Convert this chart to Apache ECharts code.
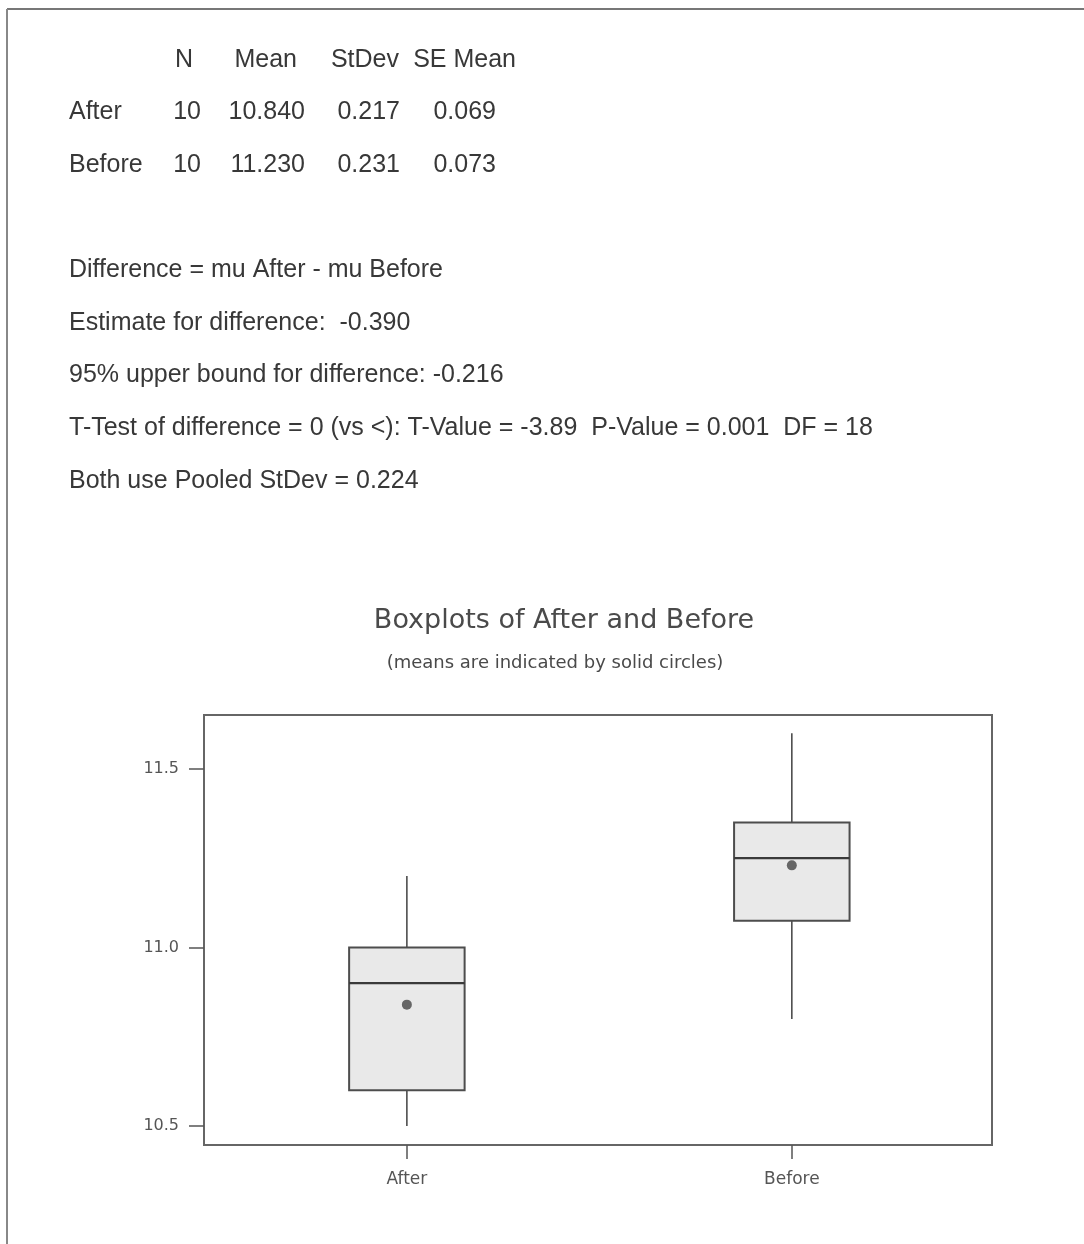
<!DOCTYPE html>
<html>
<head>
<meta charset="utf-8">
<title>Two-sample T-test: After vs Before</title>
<script src="https://cdn.jsdelivr.net/npm/echarts@6/dist/echarts.min.js"></script>
<style>
  html, body { margin: 0; padding: 0; background: #ffffff; }
  #chart { width: 1084px; height: 1244px; }
</style>
</head>
<body>
<div id="chart"></div>
<script>
// Sample summary table
const statHeaders = ['N', 'Mean', 'StDev', 'SE Mean'];
const sampleNames = ['After', 'Before'];
const sampleN = ['10', '10'];
const sampleMean = ['10.840', '11.230'];
const sampleStDev = ['0.217', '0.231'];
const sampleSEMean = ['0.069', '0.073'];

// Test result lines
const testLines = [
  'Difference = mu After - mu Before',
  'Estimate for difference:  -0.390',
  '95% upper bound for difference: -0.216',
  'T-Test of difference = 0 (vs <): T-Value = -3.89  P-Value = 0.001  DF = 18',
  'Both use Pooled StDev = 0.224'
];

// Boxplot data: categories and five-number summaries plus means
const categories = ['After', 'Before'];
const whiskerLow = [10.50, 10.80];
const quartile1 = [10.60, 11.075];
const medians = [10.90, 11.25];
const quartile3 = [11.00, 11.35];
const whiskerHigh = [11.20, 11.60];
const means = [10.84, 11.23];

// Axis ticks
const yTicks = [10.5, 11.0, 11.5];
const xTicks = [1, 2];

const chart = echarts.init(document.getElementById('chart'), null, { renderer: 'canvas' });

const boxData = categories.map((c, i) => [
  i + 1, whiskerLow[i], quartile1[i], medians[i], quartile3[i], whiskerHigh[i], means[i]
]);

const BOX_WIDTH = 0.3; // in x-axis units
const LINE = '#4d4d4d';

function renderBox(params, api) {
  const x = api.value(0);
  const half = api.size([BOX_WIDTH, 0])[0] / 2;
  const pLow = api.coord([x, api.value(1)]);
  const pQ1 = api.coord([x, api.value(2)]);
  const pMed = api.coord([x, api.value(3)]);
  const pQ3 = api.coord([x, api.value(4)]);
  const pHigh = api.coord([x, api.value(5)]);
  const pMean = api.coord([x, api.value(6)]);
  const cx = pMed[0];
  return {
    type: 'group',
    children: [
      { type: 'line', shape: { x1: cx, y1: pHigh[1], x2: cx, y2: pQ3[1] },
        style: { stroke: LINE, lineWidth: 1.6 } },
      { type: 'line', shape: { x1: cx, y1: pQ1[1], x2: cx, y2: pLow[1] },
        style: { stroke: LINE, lineWidth: 1.6 } },
      { type: 'rect', shape: { x: cx - half, y: pQ3[1], width: half * 2, height: pQ1[1] - pQ3[1] },
        style: { fill: '#e9e9e9', stroke: LINE, lineWidth: 2 } },
      { type: 'line', shape: { x1: cx - half, y1: pMed[1], x2: cx + half, y2: pMed[1] },
        style: { stroke: '#3a3a3a', lineWidth: 2.2 } },
      { type: 'circle', shape: { cx: pMean[0], cy: pMean[1], r: 5 },
        style: { fill: '#666666' } }
    ]
  };
}

// Text block above the plot
const textFont = '"Liberation Sans", Arial, sans-serif';
const textColor = '#383838';
const textSize = 25;
const graphics = [];

function addText(str, x, y, align) {
  graphics.push({
    type: 'text', x: x, y: y,
    style: { text: str, font: textSize + 'px ' + textFont, fill: textColor,
             textAlign: align || 'left', textVerticalAlign: 'middle' }
  });
}

// Table columns (right edge for numeric columns)
const colRight = [201, 305, 400, 496];
const headRight = [193, 297, 399, 516];
const rowY = [60, 112, 165];
statHeaders.forEach((h, j) => addText(h, headRight[j], rowY[0], 'right'));
const cols = [sampleN, sampleMean, sampleStDev, sampleSEMean];
sampleNames.forEach((name, i) => {
  addText(name, 69, rowY[i + 1], 'left');
  cols.forEach((col, j) => addText(col[i], colRight[j], rowY[i + 1], 'right'));
});
testLines.forEach((line, k) => addText(line, 69, 270 + k * 52.7, 'left'));

// Plot title and subtitle
graphics.push({
  type: 'text', x: 564, y: 621,
  style: { text: 'Boxplots of After and Before', font: '27px "DejaVu Sans", Verdana, sans-serif',
           fill: '#4a4a4a', textAlign: 'center', textVerticalAlign: 'middle' }
});
graphics.push({
  type: 'text', x: 555, y: 663,
  style: { text: '(means are indicated by solid circles)', font: '18px "DejaVu Sans", Verdana, sans-serif',
           fill: '#4a4a4a', textAlign: 'center', textVerticalAlign: 'middle' }
});

// Page border (top and left edges)
graphics.push({ type: 'line', shape: { x1: 7, y1: 9, x2: 1084, y2: 9 },
  style: { stroke: '#777777', lineWidth: 2 } });
graphics.push({ type: 'line', shape: { x1: 7, y1: 9, x2: 7, y2: 1244 },
  style: { stroke: '#888888', lineWidth: 2 } });

const axisFont = '"DejaVu Sans", Verdana, sans-serif';

chart.setOption({
  animation: false,
  backgroundColor: '#ffffff',
  grid: {
    left: 204, top: 715, right: 92, bottom: 99,
    show: true, borderColor: '#666666', borderWidth: 2, backgroundColor: 'transparent'
  },
  xAxis: {
    type: 'value', min: 0.473, max: 2.52,
    axisLine: { show: false },
    splitLine: { show: false },
    axisTick: { show: true, inside: false, length: 14, customValues: xTicks,
                lineStyle: { color: '#555555', width: 1.5 } },
    axisLabel: { customValues: xTicks, margin: 26, fontFamily: axisFont, fontSize: 17, color: '#555555',
                 formatter: v => categories[Math.round(v) - 1] || '' }
  },
  yAxis: {
    type: 'value', min: 10.447, max: 11.651,
    axisLine: { show: false },
    splitLine: { show: false },
    axisTick: { show: true, inside: false, length: 15, customValues: yTicks,
                lineStyle: { color: '#555555', width: 1.5 } },
    axisLabel: { customValues: yTicks, margin: 25, fontFamily: axisFont, fontSize: 16, color: '#555555',
                 formatter: v => v.toFixed(1) }
  },
  graphic: graphics,
  series: [{
    type: 'custom',
    renderItem: renderBox,
    encode: { x: 0, y: [1, 2, 3, 4, 5, 6] },
    data: boxData,
    clip: false
  }]
});
</script>
</body>
</html>
